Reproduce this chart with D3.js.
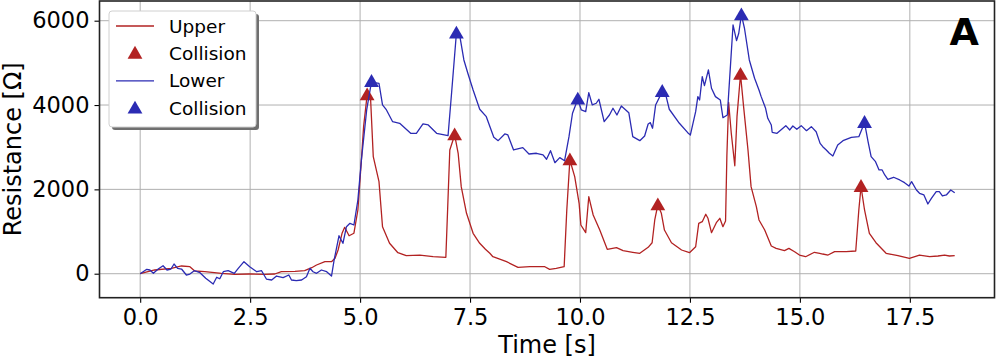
<!DOCTYPE html>
<html>
<head>
<meta charset="utf-8">
<script src="https://cdn.jsdelivr.net/npm/d3@7"></script>
<style>
  html, body { margin: 0; padding: 0; background: #fff; }
  svg { display: block; font-family: "DejaVu Sans", sans-serif; }
</style>
</head>
<body>
<div id="chart"></div>
<script>
// Upper sensor: [time s, resistance Ω]
var upperSeries = [
  [0.00, 0], [0.33, 88], [0.71, 128], [0.94, 183], [1.13, 166], [1.24, 64], [1.47, 47],
  [1.85, 9], [2.15, -14], [2.49, -7], [2.83, -14], [3.06, -7], [3.21, 47], [3.52, 57],
  [3.74, 71], [3.90, 142], [4.01, 206], [4.20, 285], [4.35, 285], [4.43, 365], [4.50, 562],
  [4.59, 958], [4.65, 1100], [4.75, 900], [4.86, 960], [4.95, 1511], [5.03, 2697], [5.08, 3487],
  [5.16, 4239], [5.24, 4120], [5.30, 2775], [5.43, 2182], [5.51, 1115], [5.67, 721], [5.86, 498],
  [6.05, 427], [6.36, 443], [6.66, 403], [6.95, 389], [6.99, 1511], [7.04, 2934], [7.15, 3290],
  [7.23, 2856], [7.30, 2064], [7.42, 1433], [7.57, 958], [7.72, 721], [7.85, 580], [7.95, 484],
  [8.02, 403], [8.33, 285], [8.59, 152], [8.86, 166], [9.20, 166], [9.31, 104], [9.46, 128],
  [9.64, 166], [9.70, 1511], [9.77, 2697], [9.88, 2301], [9.98, 1670], [10.02, 1155], [10.13, 973],
  [10.20, 1826], [10.30, 1392], [10.45, 1036], [10.62, 579], [10.83, 617], [10.98, 546], [11.20, 508],
  [11.36, 484], [11.55, 626], [11.64, 735], [11.70, 1274], [11.77, 1630], [11.85, 1433], [11.92, 1036],
  [12.08, 735], [12.31, 562], [12.49, 498], [12.63, 640], [12.70, 1195], [12.78, 1234], [12.86, 1409],
  [12.91, 1314], [12.99, 973], [13.10, 1210], [13.18, 1314], [13.25, 1115], [13.31, 1250], [13.34, 2800],
  [13.38, 4060], [13.44, 3330], [13.52, 2560], [13.57, 3724], [13.65, 4725], [13.72, 3961], [13.82, 2934],
  [13.89, 2064], [14.01, 1589], [14.07, 1274], [14.20, 1036], [14.35, 657], [14.46, 602], [14.65, 546],
  [14.75, 602], [14.88, 522], [14.99, 443], [15.13, 403], [15.33, 508], [15.45, 484], [15.52, 467],
  [15.64, 443], [15.79, 522], [16.05, 522], [16.27, 538], [16.34, 1511], [16.39, 2064], [16.47, 1511],
  [16.58, 958], [16.73, 735], [16.96, 484], [17.23, 427], [17.49, 365], [17.72, 443], [17.95, 403],
  [18.14, 420], [18.29, 443], [18.40, 420], [18.52, 427]
];

// Lower sensor: [time s, resistance Ω]
var lowerSeries = [
  [0.00, 0], [0.15, 104], [0.22, 88], [0.30, 9], [0.41, 111], [0.52, 190], [0.61, 88], [0.70, 111],
  [0.77, 230], [0.85, 128], [0.94, 111], [1.05, -31], [1.13, -7], [1.23, 71], [1.36, 24], [1.49, -109],
  [1.66, -244], [1.74, -85], [1.81, -119], [1.89, 47], [2.00, 71], [2.14, 9], [2.23, 128], [2.36, 285],
  [2.49, 166], [2.65, 47], [2.76, 71], [2.87, -126], [2.99, -149], [3.10, -55], [3.25, -95], [3.38, -31],
  [3.44, -149], [3.55, -166], [3.67, -149], [3.78, -71], [3.86, 128], [3.93, 47], [4.01, 9], [4.12, 88],
  [4.24, 47], [4.35, -55], [4.41, 325], [4.52, 900], [4.61, 721], [4.69, 1115], [4.77, 1195], [4.86, 1155],
  [4.95, 1748], [5.03, 2697], [5.15, 3883], [5.26, 4554], [5.33, 4531], [5.43, 4516], [5.51, 4002],
  [5.60, 3883], [5.74, 3605], [5.90, 3567], [6.15, 3330], [6.28, 3330], [6.43, 3551], [6.55, 3527],
  [6.74, 3330], [7.00, 3273], [7.08, 4279], [7.19, 5702], [7.27, 5622], [7.36, 5069], [7.45, 4753],
  [7.57, 4357], [7.72, 3900], [7.87, 3724], [8.04, 3235], [8.14, 3155], [8.29, 3314], [8.36, 3290],
  [8.49, 2934], [8.70, 2989], [8.84, 2839], [9.01, 2856], [9.16, 2816], [9.24, 2714], [9.33, 2918],
  [9.43, 2633], [9.54, 2752], [9.65, 2680], [9.75, 3250], [9.83, 3805], [9.95, 4137], [10.03, 3883],
  [10.13, 3843], [10.20, 4293], [10.28, 4002], [10.37, 4042], [10.43, 4137], [10.55, 3605], [10.67, 3764],
  [10.75, 3923], [10.84, 3764], [10.94, 3978], [11.11, 3819], [11.20, 3250], [11.36, 3155], [11.47, 3266],
  [11.55, 3551], [11.60, 3582], [11.65, 3449], [11.72, 4002], [11.87, 4317], [11.96, 4199], [12.03, 3900],
  [12.26, 3567], [12.45, 3345], [12.51, 3290], [12.63, 3843], [12.68, 4199], [12.72, 4120], [12.78, 4673],
  [12.83, 4460], [12.92, 4832], [12.99, 4398], [13.08, 4199], [13.19, 4120], [13.25, 3700], [13.35, 3764],
  [13.42, 4910], [13.48, 5899], [13.56, 5527], [13.61, 5702], [13.67, 6136], [13.74, 5821], [13.85, 5069],
  [13.97, 4635], [14.07, 4357], [14.12, 4199], [14.22, 3923], [14.27, 3686], [14.35, 3527], [14.37, 3354],
  [14.48, 3330], [14.68, 3511], [14.77, 3409], [14.84, 3503], [14.93, 3425], [15.03, 3511], [15.15, 3392],
  [15.26, 3487], [15.37, 3368], [15.46, 3090], [15.52, 3012], [15.60, 2934], [15.67, 2856], [15.75, 2792],
  [15.86, 3053], [15.98, 3155], [16.17, 3235], [16.34, 3250], [16.47, 3582], [16.55, 3131], [16.62, 2775],
  [16.72, 2657], [16.80, 2460], [16.87, 2460], [16.93, 2341], [17.00, 2239], [17.13, 2287], [17.27, 2223],
  [17.38, 2159], [17.48, 2080], [17.54, 2182], [17.65, 1985], [17.72, 1907], [17.82, 1867], [17.91, 1653],
  [17.99, 1788], [18.10, 1945], [18.17, 1945], [18.24, 1843], [18.33, 1867], [18.43, 1985], [18.52, 1921]
];

// collision instants
var upperCollisionTime = [5.16, 7.15, 9.77, 11.77, 13.65, 16.39];
var upperCollisionValue = [4239, 3290, 2697, 1630, 4725, 2064];
var lowerCollisionTime = [5.26, 7.19, 9.95, 11.87, 13.67, 16.47];
var lowerCollisionValue = [4554, 5702, 4137, 4317, 6136, 3582];

var xTicks = [0, 2.5, 5, 7.5, 10, 12.5, 15, 17.5];
var yTicks = [0, 2000, 4000, 6000];

var W = 996, H = 359;
var plot = { left: 99.5, right: 994.5, top: 1, bottom: 297.7 };
var RED = "#b22222", BLUE = "#2b2bb3";

var svg = d3.select("#chart").append("svg").attr("width", W).attr("height", H);

var x = d3.scaleLinear().domain([-0.925, 19.425]).range([plot.left, plot.right]);
var y = d3.scaleLinear().domain([-569, 6467]).range([plot.bottom, plot.top]);

// grid
var grid = svg.append("g").attr("stroke", "#b0b0b0").attr("stroke-width", 1);
grid.selectAll(".gx").data(xTicks).enter().append("line")
  .attr("x1", function (d) { return x(d); }).attr("x2", function (d) { return x(d); })
  .attr("y1", plot.top).attr("y2", plot.bottom);
grid.selectAll(".gy").data(yTicks).enter().append("line")
  .attr("y1", function (d) { return y(d); }).attr("y2", function (d) { return y(d); })
  .attr("x1", plot.left).attr("x2", plot.right);

// axes
var xAxis = svg.append("g")
  .attr("transform", "translate(0," + plot.bottom + ")")
  .call(d3.axisBottom(x).tickValues(xTicks).tickFormat(d3.format(".1f")).tickSizeOuter(0).tickSize(5).tickPadding(6));
var yAxis = svg.append("g")
  .attr("transform", "translate(" + plot.left + ",0)")
  .call(d3.axisLeft(y).tickValues(yTicks).tickFormat(d3.format("d")).tickSizeOuter(0).tickSize(5).tickPadding(5));
[xAxis, yAxis].forEach(function (a) {
  a.select(".domain").remove();
  a.selectAll("text").attr("font-family", "DejaVu Sans").attr("font-size", "22.5px").attr("fill", "#000");
  a.selectAll("line").attr("stroke", "#000").attr("stroke-width", 1.1);
});

var clip = svg.append("clipPath").attr("id", "clip").append("rect")
  .attr("x", plot.left).attr("y", plot.top)
  .attr("width", plot.right - plot.left).attr("height", plot.bottom - plot.top);

var line = d3.line()
  .x(function (d) { return x(d[0]); })
  .y(function (d) { return y(d[1]); });

var tri = d3.symbol().type(d3.symbolTriangle).size(95);

function drawSeries(series, times, values, color) {
  svg.append("path").datum(series)
    .attr("clip-path", "url(#clip)")
    .attr("fill", "none").attr("stroke", color).attr("stroke-width", 1.3)
    .attr("stroke-linejoin", "round")
    .attr("d", line);
  svg.append("g").selectAll("path").data(times).enter().append("path")
    .attr("d", tri)
    .attr("transform", function (d, i) { return "translate(" + x(d) + "," + (y(values[i]) + 1) + ")"; })
    .attr("fill", color);
}
drawSeries(upperSeries, upperCollisionTime, upperCollisionValue, RED);
drawSeries(lowerSeries, lowerCollisionTime, lowerCollisionValue, BLUE);

// frame
svg.append("rect")
  .attr("x", plot.left).attr("y", plot.top)
  .attr("width", plot.right - plot.left).attr("height", plot.bottom - plot.top)
  .attr("fill", "none").attr("stroke", "#222").attr("stroke-width", 1.6);

// axis labels
svg.append("text")
  .attr("x", (plot.left + plot.right) / 2).attr("y", 353)
  .attr("text-anchor", "middle").attr("font-size", "24px")
  .text("Time [s]");
svg.append("text")
  .attr("transform", "translate(21," + ((plot.top + plot.bottom) / 2) + ") rotate(-90)")
  .attr("text-anchor", "middle").attr("font-size", "24px")
  .text("Resistance [Ω]");

// panel letter
svg.append("text")
  .attr("x", 979).attr("y", 45)
  .attr("text-anchor", "end").attr("font-size", "38px").attr("font-weight", "bold")
  .text("A");

// legend
var legendItems = [
  { label: "Upper", kind: "line", color: RED },
  { label: "Collision", kind: "marker", color: RED },
  { label: "Lower", kind: "line", color: BLUE },
  { label: "Collision", kind: "marker", color: BLUE }
];
var lg = svg.append("g").attr("transform", "translate(109,11)");
lg.append("rect").attr("x", 3).attr("y", 3).attr("width", 147).attr("height", 116)
  .attr("rx", 3).attr("fill", "#6f6f6f");
lg.append("rect").attr("x", 0).attr("y", 0).attr("width", 147).attr("height", 116)
  .attr("rx", 3).attr("fill", "#fff").attr("stroke", "#d0d0d0").attr("stroke-width", 1);
var rows = lg.selectAll(".row").data(legendItems).enter().append("g")
  .attr("transform", function (d, i) { return "translate(0," + (15 + i * 27.4) + ")"; });
rows.filter(function (d) { return d.kind === "line"; }).append("line")
  .attr("x1", 7).attr("x2", 45).attr("stroke", function (d) { return d.color; }).attr("stroke-width", 1.3);
rows.filter(function (d) { return d.kind === "marker"; }).append("path")
  .attr("d", tri).attr("transform", "translate(26,1)").attr("fill", function (d) { return d.color; });
rows.append("text")
  .attr("x", 60).attr("y", 6.5).attr("font-size", "18.5px")
  .text(function (d) { return d.label; });
</script>
</body>
</html>
